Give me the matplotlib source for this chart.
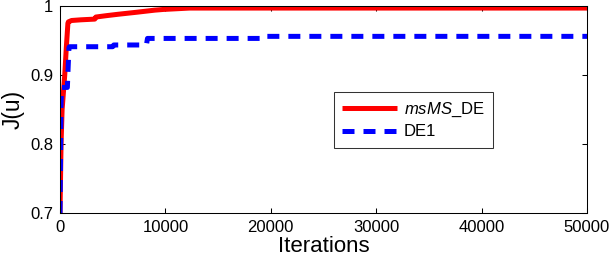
import matplotlib
matplotlib.use("Agg")
import matplotlib.pyplot as plt
from matplotlib.ticker import FuncFormatter

plt.rcParams['font.family'] = ['Liberation Sans', 'DejaVu Sans']
plt.rcParams['mathtext.fontset'] = 'custom'
plt.rcParams['mathtext.it'] = 'Liberation Sans:italic'
plt.rcParams['mathtext.rm'] = 'Liberation Sans'

red_x = [0, 100, 200, 300, 450, 600, 750, 800, 1100, 2000, 3300, 3400, 4400, 5500, 7300, 9000, 9800, 12300, 50000]
red_y = [0.70, 0.80, 0.85, 0.87, 0.90, 0.94, 0.975, 0.977, 0.979, 0.980, 0.981, 0.984, 0.986, 0.988, 0.991, 0.994, 0.995, 0.997, 0.997]

blue_x = [0, 50, 100, 150, 700, 750, 850, 900, 5000, 5100, 8200, 8300, 19100, 19200, 50000]
blue_y = [0.70, 0.78, 0.86, 0.882, 0.882, 0.903, 0.94, 0.941, 0.941, 0.9435, 0.9435, 0.953, 0.953, 0.956, 0.956]

x_ticks = [0, 10000, 20000, 30000, 40000, 50000]
y_ticks = [0.7, 0.8, 0.9, 1.0]

fig = plt.figure(figsize=(6.1, 2.6), dpi=100)
ax = fig.add_axes([60/610, 47/260, 527/610, 207/260])

ax.plot(red_x, red_y, color='#ff0000', lw=3.6, label=r'$\mathit{msMS}$_DE', solid_capstyle='butt')
ax.plot(blue_x, blue_y, color='#0000ff', lw=3.6, ls=(0, (2.4, 1.8)), dash_capstyle='butt', label='DE1')

ax.set_xlim(0, 50000)
ax.set_ylim(0.7, 1.0)
ax.set_xticks(x_ticks)
ax.set_yticks(y_ticks)
ax.yaxis.set_major_formatter(FuncFormatter(lambda v, p: '1' if abs(v - 1) < 1e-9 else f'{v:.1f}'))
ax.tick_params(direction='in', length=3.5, width=0.75, top=True, right=True, labelsize=12, pad=5)
for s in ax.spines.values():
    s.set_linewidth(0.75)

ax.set_xlabel('Iterations', fontsize=16, labelpad=1)
ax.set_ylabel('J(u)', fontsize=16.5, labelpad=4)

leg = ax.legend(loc='upper left', bbox_to_anchor=(0.52, 0.585), fontsize=12, frameon=True,
                fancybox=False, edgecolor='black', handlelength=3.3, borderpad=0.5,
                labelspacing=0.35, handletextpad=0.4, borderaxespad=0)
leg.get_frame().set_linewidth(0.75)

fig.savefig('out.png', dpi=100)
